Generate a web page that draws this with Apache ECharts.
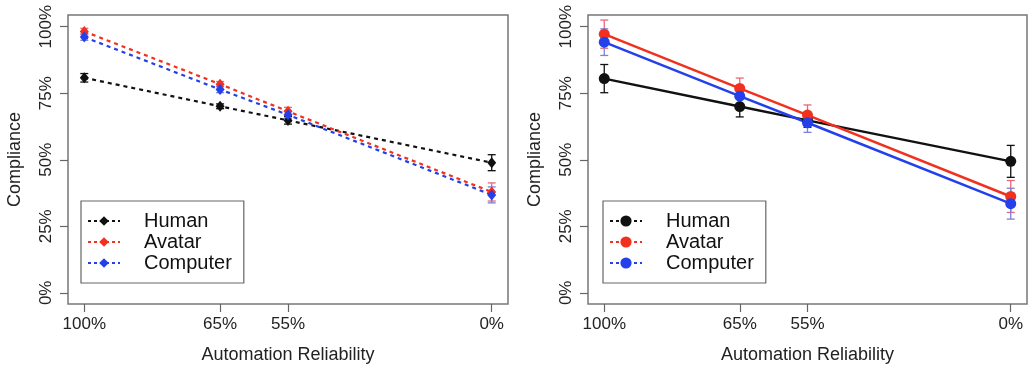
<!DOCTYPE html>
<html>
<head>
<meta charset="utf-8">
<script src="https://cdn.jsdelivr.net/npm/echarts@6/dist/echarts.min.js"></script>
<style>
  html, body { margin: 0; padding: 0; background: #fff; }
  #main { width: 1028px; height: 370px; }
</style>
</head>
<body>
<div id="main"></div>
<script>
// x positions used for the four reliability levels, and their tick labels
var reliabilityX = [0, 2, 3, 6]
var reliabilityLabels = ['100%', '65%', '55%', '0%']
var complianceTicks = [0, 25, 50, 75, 100]

// left panel (observed means, dashed)
var leftHuman = [80.8, 70.1, 64.8, 48.9]
var leftHumanErr = [1.6, 0.9, 1.4, 3.0]
var leftAvatar = [98.2, 78.4, 68.2, 37.9]
var leftAvatarErr = [1.2, 1.0, 1.5, 3.4]
var leftComputer = [96.1, 76.4, 66.9, 36.8]
var leftComputerErr = [1.2, 1.2, 1.3, 3.0]

// right panel (model estimates, solid)
var rightHuman = [80.5, 70.0, 64.8, 49.4]
var rightHumanErr = [5.3, 3.9, 2.6, 6.0]
var rightAvatar = [97.2, 76.8, 66.8, 36.2]
var rightAvatarErr = [5.3, 3.9, 3.8, 6.0]
var rightComputer = [94.2, 73.9, 63.9, 33.5]
var rightComputerErr = [5.0, 3.6, 3.6, 5.8]

var black = '#111111'
var red = '#f2301e'
var blue = '#2340ea'
var redBar = '#e8687a'
var blueBar = '#7f7fd8'
var font = 'Liberation Sans, Arial, sans-serif'

function pts (vals) {
  return vals.map(function (v, i) { return [reliabilityX[i], v] })
}
function bars (vals, errs) {
  return vals.map(function (v, i) { return [reliabilityX[i], v - errs[i], v + errs[i]] })
}

function errorBarItem (params, api) {
  var x = api.value(0)
  var lo = api.coord([x, api.value(1)])
  var hi = api.coord([x, api.value(2)])
  var w = 4
  var style = { stroke: api.visual('color'), lineWidth: 1.3 }
  return {
    type: 'group',
    children: [
      { type: 'line', shape: { x1: lo[0], y1: lo[1], x2: hi[0], y2: hi[1] }, style: style },
      { type: 'line', shape: { x1: lo[0] - w, y1: lo[1], x2: lo[0] + w, y2: lo[1] }, style: style },
      { type: 'line', shape: { x1: hi[0] - w, y1: hi[1], x2: hi[0] + w, y2: hi[1] }, style: style }
    ]
  }
}

function errSeries (idx, vals, errs, color) {
  return {
    type: 'custom',
    xAxisIndex: idx,
    yAxisIndex: idx,
    renderItem: errorBarItem,
    itemStyle: { color: color },
    data: bars(vals, errs),
    z: 2,
    silent: true
  }
}

function lineSeries (idx, name, vals, color, dashed) {
  return {
    name: name,
    type: 'line',
    xAxisIndex: idx,
    yAxisIndex: idx,
    data: pts(vals),
    symbol: dashed ? 'diamond' : 'circle',
    symbolSize: dashed ? [9, 11] : 11,
    itemStyle: { color: color },
    lineStyle: { color: color, width: dashed ? 2.2 : 2.5, type: dashed ? [4, 4] : 'solid' },
    z: 3,
    animation: false
  }
}

function xAxisOpt (idx) {
  return {
    type: 'value',
    gridIndex: idx,
    min: -0.24,
    max: 6.24,
    splitLine: { show: false },
    axisLine: { show: false, onZero: false },
    axisTick: { show: true, length: 8, customValues: reliabilityX, lineStyle: { color: '#666', width: 1.2 } },
    axisLabel: {
      customValues: reliabilityX,
      margin: 12,
      fontSize: 17,
      color: '#222',
      fontFamily: font,
      formatter: function (v) { return reliabilityLabels[reliabilityX.indexOf(v)] }
    },
    name: 'Automation Reliability',
    nameLocation: 'middle',
    nameGap: 42,
    nameTextStyle: { fontSize: 18, color: '#222', fontFamily: font }
  }
}

function yAxisOpt (idx) {
  return {
    type: 'value',
    gridIndex: idx,
    min: -4.2,
    max: 104.4,
    splitLine: { show: false },
    axisLine: { show: false, onZero: false },
    axisTick: { show: true, length: 8, customValues: complianceTicks, lineStyle: { color: '#666', width: 1.2 } },
    axisLabel: {
      customValues: complianceTicks,
      rotate: 90,
      margin: 13,
      fontSize: 17,
      color: '#222',
      fontFamily: font,
      formatter: '{value}%'
    },
    name: 'Compliance',
    nameLocation: 'middle',
    nameRotate: 90,
    nameGap: 44,
    nameTextStyle: { fontSize: 18, color: '#222', fontFamily: font }
  }
}

function legendOpt (left, names, h) {
  return {
    orient: 'vertical',
    left: left,
    top: 201,
    data: names,
    itemWidth: 32,
    itemHeight: h,
    itemGap: 1,
    padding: [10, 12, 10, 6],
    borderColor: '#666',
    borderWidth: 1.2,
    selectedMode: false,
    lineStyle: { type: [3, 3], width: 2 },
    formatter: function (n) { return n.split(' (')[0] },
    textStyle: { fontSize: 20, lineHeight: 20, color: '#111', fontFamily: font, padding: [0, 0, 0, 19] }
  }
}

var chart = echarts.init(document.getElementById('main'))
chart.setOption({
  backgroundColor: '#fff',
  animation: false,
  grid: [
    { left: 68, top: 15, width: 440, height: 289, show: true, borderColor: '#777', borderWidth: 1.5 },
    { left: 588, top: 15, width: 439, height: 289, show: true, borderColor: '#777', borderWidth: 1.5 }
  ],
  xAxis: [xAxisOpt(0), xAxisOpt(1)],
  yAxis: [yAxisOpt(0), yAxisOpt(1)],
  legend: [
    legendOpt(81, ['Human', 'Avatar', 'Computer'], 12),
    legendOpt(603, ['Human (m)', 'Avatar (m)', 'Computer (m)'], 14)
  ],
  series: [
    errSeries(0, leftHuman, leftHumanErr, black),
    errSeries(0, leftAvatar, leftAvatarErr, redBar),
    errSeries(0, leftComputer, leftComputerErr, blueBar),
    lineSeries(0, 'Human', leftHuman, black, true),
    lineSeries(0, 'Avatar', leftAvatar, red, true),
    lineSeries(0, 'Computer', leftComputer, blue, true),
    errSeries(1, rightHuman, rightHumanErr, black),
    errSeries(1, rightAvatar, rightAvatarErr, redBar),
    errSeries(1, rightComputer, rightComputerErr, blueBar),
    lineSeries(1, 'Human (m)', rightHuman, black, false),
    lineSeries(1, 'Avatar (m)', rightAvatar, red, false),
    lineSeries(1, 'Computer (m)', rightComputer, blue, false)
  ]
})
</script>
</body>
</html>
